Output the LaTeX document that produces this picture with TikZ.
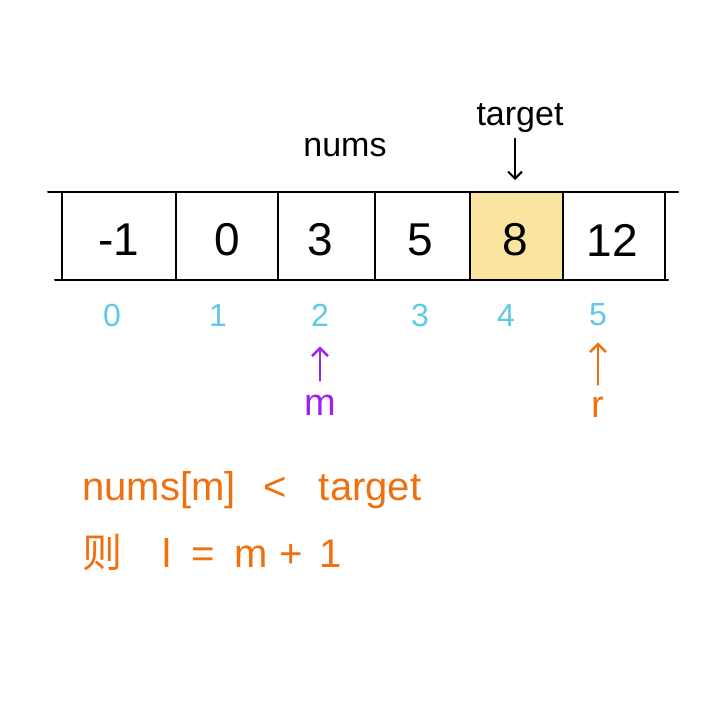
\documentclass[tikz,border=0pt]{standalone}
\usepackage{fontspec}
\setmainfont{Liberation Sans}
\newfontfamily\cjk{Noto Sans CJK SC}
\usetikzlibrary{arrows.meta}
\definecolor{cellyellow}{HTML}{F9E4A0}
\definecolor{idxcyan}{HTML}{5ECBE3}
\definecolor{ptrpurple}{HTML}{A020F0}
\definecolor{ptrorange}{HTML}{F07010}
\tikzset{
  valtext/.style={font=\fontsize{46}{46}\selectfont, text=black, inner sep=0pt},
  idxtext/.style={font=\fontsize{32}{32}\selectfont, text=idxcyan, inner sep=0pt},
  labtext/.style={font=\fontsize{34}{34}\selectfont, text=black, inner sep=0pt},
  ptrtext/.style={font=\fontsize{38}{38}\selectfont, inner sep=0pt},
  notetext/.style={font=\fontsize{40}{40}\selectfont, text=ptrorange, inner sep=0pt, anchor=west},
  gridline/.style={line width=2pt, black, line cap=round},
  ptrarrow/.style={line width=2.4pt, -{Straight Barb[length=8pt,width=16pt]}, line cap=round}
}
\begin{document}
\begin{tikzpicture}[x=1pt,y=-1pt]
\useasboundingbox (0,0) rectangle (720,720);
\fill[white] (0,0) rectangle (720,720);
\fill[cellyellow] (470,192) rectangle (563,280);
\draw[gridline] (48,192) -- (678,192);
\draw[gridline] (55,280) -- (668,280);
\foreach \x in {62,176,278,375,470,563,665} {
  \draw[gridline] (\x,192) -- (\x,280);
}
\node[valtext] (v0) at (119,240) {-1};
\node[valtext] (v1) at (227,240) {0};
\node[valtext] (v2) at (320,240) {3};
\node[valtext] (v3) at (420,240) {5};
\node[valtext] (v4) at (515,240) {8};
\node[valtext] (v5) at (612,240) {12};
\node[idxtext] (i0) at (112,315) {0};
\node[idxtext] (i1) at (218,315) {1};
\node[idxtext] (i2) at (320,315) {2};
\node[idxtext] (i3) at (420,315) {3};
\node[idxtext] (i4) at (506,315) {4};
\node[idxtext] (i5) at (598,315) {5};
\node[labtext] (nums) at (345,148) {nums};
\node[labtext] (target) at (520,118) {target};
\coordinate (tgtend) at (515,180);
\draw[ptrarrow, line width=2pt, -{Straight Barb[length=7pt,width=14pt]}] (target.south -| tgtend) ++(0,6) -- (tgtend);
\node[ptrtext, text=ptrpurple] (m) at (320,405) {m};
\node[ptrtext, text=ptrorange] (r) at (598,407) {r};
\draw[ptrarrow, draw=ptrpurple] ([yshift=14pt]m.north) -- ([yshift=-20pt]i2.south);
\draw[ptrarrow, draw=ptrorange] ([yshift=12pt]r.north) -- ([yshift=-16pt]i5.south);
\node[notetext] (cond) at (82,490) {nums[m]\hspace{0.7em}<\hspace{0.8em}target};
\node[notetext] (act) at (82,552) {{\cjk 则}\hspace{1em}l\hspace{0.5em}=\hspace{0.5em}m\hspace{0.3em}+\hspace{0.4em}1};
\end{tikzpicture}
\end{document}
